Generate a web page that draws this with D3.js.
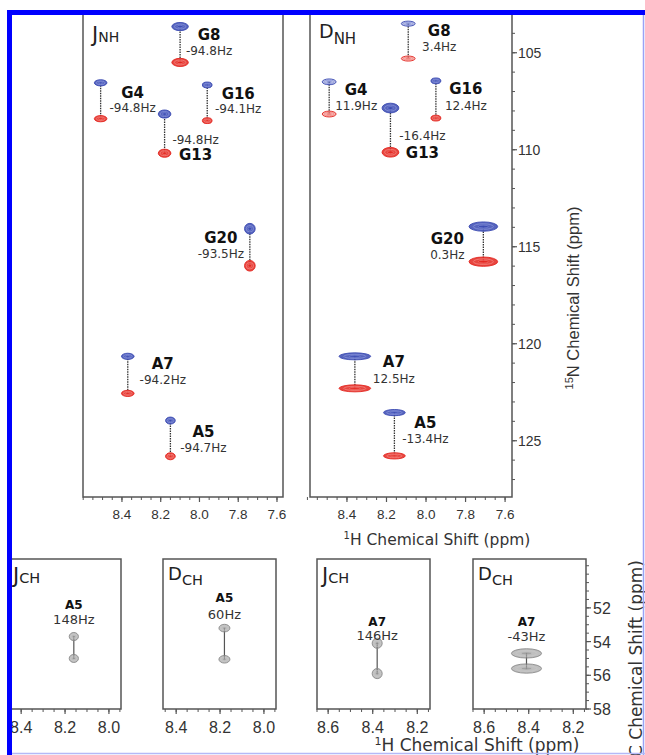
<!DOCTYPE html>
<html>
<head>
<meta charset="utf-8">
<script src="https://cdn.jsdelivr.net/npm/d3@7"></script>
<style>
body { margin: 0; background: #fff; }
svg { display: block; }
</style>
</head>
<body>
<script>
// ---- data ----
var residues = ["G8", "G4", "G16", "G13", "G20", "A7", "A5"];

// J_NH panel: 1H shift, 15N shift of upfield (blue) and downfield (red) component
var jnhH     = [8.10, 8.51, 7.96, 8.18, 7.74, 8.37, 8.15];
var jnhNblue = [103.65, 106.55, 106.66, 108.16, 114.07, 120.65, 123.96];
var jnhNred  = [105.50, 108.40, 108.50, 110.18, 115.98, 122.56, 125.80];
var jnhHz    = ["-94.8Hz", "-94.8Hz", "-94.1Hz", "-94.8Hz", "-93.5Hz", "-94.2Hz", "-94.7Hz"];
var jnhLwH   = [0.085, 0.065, 0.05, 0.065, 0.055, 0.065, 0.05];
var jnhLwN   = [0.42, 0.32, 0.30, 0.42, 0.55, 0.32, 0.36];

// D_NH panel
var dnhH     = [8.09, 8.49, 7.95, 8.18, 7.71, 8.36, 8.16];
var dnhNblue = [103.50, 106.50, 106.45, 107.85, 113.96, 120.65, 123.55];
var dnhNred  = [105.30, 108.16, 108.37, 110.13, 115.77, 122.30, 125.78];
var dnhHz    = ["3.4Hz", "11.9Hz", "12.4Hz", "-16.4Hz", "0.3Hz", "12.5Hz", "-13.4Hz"];
var dnhLwH   = [0.07, 0.07, 0.05, 0.085, 0.145, 0.16, 0.11];
var dnhLwN   = [0.26, 0.30, 0.30, 0.50, 0.48, 0.36, 0.32];

var hTicksNH = [8.4, 8.2, 8.0, 7.8, 7.6];
var nTicks   = [105, 110, 115, 120, 125];

// C-H panels (A5 and A7 alpha carbons)
var chKind    = ["J", "D", "J", "D"];
var chRes     = ["A5", "A5", "A7", "A7"];
var chHz      = ["148Hz", "60Hz", "146Hz", "-43Hz"];
var chH       = [8.16, 8.18, 8.38, 8.41];
var chCtop    = [53.7, 53.2, 54.1, 54.7];
var chCbottom = [55.0, 55.05, 55.9, 55.6];
var chLwH     = [0.042, 0.05, 0.045, 0.135];
var chLwC     = [0.48, 0.45, 0.6, 0.55];
var hTicksA5  = [8.4, 8.2, 8.0];
var hTicksA7  = [8.6, 8.4, 8.2];
var cTicks    = [52, 54, 56, 58];

// ---- layout ----
var w = 645, h = 755;
var svg = d3.select("body").append("svg")
	.attr("width", w)
	.attr("height", h);

var blue = { main: "#3a4ab2", light: "#8b96de" };
var red = { main: "#e3261f", light: "#f58a84" };
var grey = { main: "#8a8a8a", light: "#c9c9c9" };
var frame = "#555";
var labFont = "DejaVu Sans, Verdana, sans-serif";
var axFont = "Liberation Sans, Arial, sans-serif";

var nhTop = 12, nhBot = 497;
var yN = d3.scaleLinear().domain([102.9, 127.9]).range([nhTop, nhBot]);

// label offsets (px) from the blue peak: [dx, name dy, coupling dy]
var jnhLab = {
	G8: [29, 13, 28], G4: [32, 15, 29], G16: [31, 14, 28], G13: [31, 46, 30],
	G20: [-29, 14, 29], A7: [35, 13, 28], A5: [33, 16, 31]
};
var dnhLab = {
	G8: [31, 12, 27], G4: [27, 13, 28], G16: [30, 13, 29], G13: [32, 50, 32],
	G20: [-36, 17, 32], A7: [39, 11, 27], A5: [31, 15, 30]
};

var nhPanels = [
	{ kind: "J", x0: 83, x1: 283, dom: [8.601, 7.569], H: jnhH, nb: jnhNblue, nr: jnhNred,
	  hz: jnhHz, lwH: jnhLwH, lwN: jnhLwN, lab: jnhLab, big: 21, small: 14, subDy: 0 },
	{ kind: "D", x0: 310, x1: 512, dom: [8.587, 7.565], H: dnhH, nb: dnhNblue, nr: dnhNred,
	  hz: dnhHz, lwH: dnhLwH, lwN: dnhLwN, lab: dnhLab, big: 19, small: 15, subDy: 6 }
];

function peak(g, cx, cy, rx, ry, col, op) {
	g.append("ellipse")
		.attr("cx", cx).attr("cy", cy).attr("rx", rx).attr("ry", ry)
		.attr("fill", col.main).attr("fill-opacity", op)
		.attr("stroke", col.main).attr("stroke-width", 0.9);
	g.append("ellipse")
		.attr("cx", cx).attr("cy", cy).attr("rx", rx * 0.7).attr("ry", ry * 0.6)
		.attr("fill", "none")
		.attr("stroke", col.light).attr("stroke-width", 0.7);
	g.append("ellipse")
		.attr("cx", cx).attr("cy", cy).attr("rx", rx * 0.35).attr("ry", ry * 0.3)
		.attr("fill", col.main).attr("fill-opacity", op)
		.attr("stroke", col.light).attr("stroke-width", 0.5);
}

function xTicks(g, x, y0, majors, lo, hi, step, size, yLab) {
	var minors = d3.range(Math.round(lo / step), Math.round(hi / step) + 1).map(function(d) { return d * step; });
	g.selectAll(null).data(minors).enter().append("line")
		.attr("x1", function(d) { return x(d); })
		.attr("x2", function(d) { return x(d); })
		.attr("y1", y0).attr("y2", y0 + 3)
		.attr("stroke", frame).attr("stroke-width", 1);
	g.selectAll(null).data(majors).enter().append("line")
		.attr("x1", function(d) { return x(d); })
		.attr("x2", function(d) { return x(d); })
		.attr("y1", y0).attr("y2", y0 + 5)
		.attr("stroke", frame).attr("stroke-width", 1.2);
	g.selectAll(null).data(majors).enter().append("text")
		.attr("x", function(d) { return x(d); })
		.attr("y", yLab)
		.attr("text-anchor", "middle")
		.attr("font-family", axFont)
		.attr("font-size", size + "px")
		.attr("fill", "#333")
		.text(function(d) { return d.toFixed(1); });
}

function panelTitle(g, x, y, kind, sub, big, small, dy) {
	var t = g.append("text")
		.attr("x", x).attr("y", y)
		.attr("font-family", labFont)
		.attr("fill", "#222");
	t.append("tspan").attr("font-size", big + "px").text(kind);
	t.append("tspan").attr("font-size", small + "px").attr("dy", dy).text(sub);
}

// ---- N-H panels ----
nhPanels.forEach(function(p) {
	var x = d3.scaleLinear().domain(p.dom).range([p.x0, p.x1]);
	var g = svg.append("g");

	g.append("rect")
		.attr("x", p.x0).attr("y", nhTop)
		.attr("width", p.x1 - p.x0).attr("height", nhBot - nhTop)
		.attr("fill", "none").attr("stroke", frame).attr("stroke-width", 1.5);

	xTicks(g, x, nhBot, hTicksNH, 7.6, 8.6, 0.05, 13.5, 519);

	panelTitle(g, p.x0 + 9, p.kind == "J" ? 42 : 38, p.kind, "NH", p.big, p.small, p.subDy);

	residues.forEach(function(r, i) {
		var cx = x(p.H[i]);
		var yb = yN(p.nb[i]), yr = yN(p.nr[i]);
		var rx = Math.abs(x(0) - x(p.lwH[i])) / 2;
		var ry = (yN(p.lwN[i]) - yN(0)) / 2;
		// in the D panel the weak G8/G4 doublets are drawn as open contours
		var op = (p.kind == "D" && (r == "G8" || r == "G4")) ? 0.35 : 0.85;

		g.append("line")
			.attr("x1", cx).attr("x2", cx)
			.attr("y1", yb).attr("y2", yr)
			.attr("stroke", "#333").attr("stroke-width", 1.3)
			.attr("stroke-dasharray", "1.5,1");

		peak(g, cx, yr, rx, ry, red, op);
		peak(g, cx, yb, rx, ry, blue, op);

		var l = p.lab[r];
		g.append("text")
			.attr("x", cx + l[0]).attr("y", yb + l[1])
			.attr("text-anchor", "middle")
			.attr("font-family", labFont)
			.attr("font-weight", "bold")
			.attr("font-size", "15px")
			.attr("fill", "#111")
			.text(r);
		g.append("text")
			.attr("x", cx + l[0]).attr("y", yb + l[2])
			.attr("text-anchor", "middle")
			.attr("font-family", labFont)
			.attr("font-size", "12px")
			.attr("fill", "#333")
			.text(p.hz[i]);
	});
});

// right 15N axis
var nAx = svg.append("g");
nAx.selectAll(null).data(d3.range(103, 128)).enter().append("line")
	.attr("x1", 512).attr("x2", 515)
	.attr("y1", function(d) { return yN(d); })
	.attr("y2", function(d) { return yN(d); })
	.attr("stroke", frame);
nAx.selectAll(null).data(nTicks).enter().append("line")
	.attr("x1", 512).attr("x2", 517)
	.attr("y1", function(d) { return yN(d); })
	.attr("y2", function(d) { return yN(d); })
	.attr("stroke", frame).attr("stroke-width", 1.2);
nAx.selectAll(null).data(nTicks).enter().append("text")
	.attr("x", 518)
	.attr("y", function(d) { return yN(d) + 5; })
	.attr("font-family", axFont)
	.attr("font-size", "14px")
	.attr("fill", "#333")
	.text(function(d) { return d; });

var nTitle = svg.append("text")
	.attr("transform", "translate(579,298) rotate(-90)")
	.attr("text-anchor", "middle")
	.attr("font-family", axFont)
	.attr("font-size", "16.5px")
	.attr("fill", "#333");
nTitle.append("tspan").attr("font-size", "11px").attr("dy", -6).text("15");
nTitle.append("tspan").attr("dy", 6).text("N Chemical Shift (ppm)");

var hTitle = svg.append("text")
	.attr("x", 437).attr("y", 545)
	.attr("text-anchor", "middle")
	.attr("font-family", labFont)
	.attr("font-size", "15.5px")
	.attr("fill", "#333");
hTitle.append("tspan").attr("font-size", "10px").attr("dy", -6).text("1");
hTitle.append("tspan").attr("dy", 6).text("H Chemical Shift (ppm)");

// ---- C-H panels ----
var chTop = 559, chBot = 709;
var yC = d3.scaleLinear().domain([49.1, 58]).range([chTop, chBot]);
var chX0 = [8, 163, 317, 473];
var chDom = [[8.46, 7.945], [8.46, 7.945], [8.65, 8.143], [8.65, 8.143]];
var chLab = [[-32, -17], [-30, -13], [-21, -7], [-31, -16]];

chKind.forEach(function(k, i) {
	var x0 = chX0[i], x1 = chX0[i] + 113;
	var x = d3.scaleLinear().domain(chDom[i]).range([x0, x1]);
	var g = svg.append("g");

	g.append("rect")
		.attr("x", x0).attr("y", chTop)
		.attr("width", x1 - x0).attr("height", chBot - chTop)
		.attr("fill", "none").attr("stroke", frame).attr("stroke-width", 1.5);

	var lo = i < 2 ? 7.95 : 8.15, hi = i < 2 ? 8.45 : 8.65;
	xTicks(g, x, chBot, i < 2 ? hTicksA5 : hTicksA7, lo, hi, 0.05, 16, 733);

	panelTitle(g, x0 + 5, k == "J" ? 583 : 580, k, "CH", k == "J" ? 21 : 18, 14.5, k == "J" ? 0 : 5);

	var cx = x(chH[i]);
	var yt = yC(chCtop[i]), yb = yC(chCbottom[i]);
	var rx = Math.abs(x(0) - x(chLwH[i])) / 2;
	var ry = (yC(chLwC[i]) - yC(0)) / 2;

	g.append("line")
		.attr("x1", cx).attr("x2", cx)
		.attr("y1", yt).attr("y2", yb)
		.attr("stroke", "#555").attr("stroke-width", 1.2);
	peak(g, cx, yt, rx, ry, grey, 0.55);
	peak(g, cx, yb, rx, ry, grey, 0.55);

	g.append("text")
		.attr("x", cx).attr("y", yt + chLab[i][0] + 4)
		.attr("text-anchor", "middle")
		.attr("font-family", labFont)
		.attr("font-weight", "bold")
		.attr("font-size", "12px")
		.attr("fill", "#111")
		.text(chRes[i]);
	g.append("text")
		.attr("x", cx).attr("y", yt + chLab[i][1] + 4)
		.attr("text-anchor", "middle")
		.attr("font-family", labFont)
		.attr("font-size", "13px")
		.attr("fill", "#333")
		.text(chHz[i]);
});

// right 13C axis
var cAx = svg.append("g");
cAx.selectAll(null).data(d3.range(49.5, 58.01, 0.5)).enter().append("line")
	.attr("x1", 586).attr("x2", 589)
	.attr("y1", function(d) { return yC(d); })
	.attr("y2", function(d) { return yC(d); })
	.attr("stroke", frame);
cAx.selectAll(null).data(cTicks).enter().append("line")
	.attr("x1", 586).attr("x2", 591)
	.attr("y1", function(d) { return yC(d); })
	.attr("y2", function(d) { return yC(d); })
	.attr("stroke", frame).attr("stroke-width", 1.2);
cAx.selectAll(null).data(cTicks).enter().append("text")
	.attr("x", 593)
	.attr("y", function(d) { return yC(d) + 6; })
	.attr("font-family", axFont)
	.attr("font-size", "16px")
	.attr("fill", "#333")
	.text(function(d) { return d; });

var cTitle = svg.append("text")
	.attr("transform", "translate(642,560) rotate(-90)")
	.attr("text-anchor", "end")
	.attr("font-family", labFont)
	.attr("font-size", "17px")
	.attr("fill", "#333");
cTitle.append("tspan").attr("font-size", "11px").attr("dy", -6).text("13");
cTitle.append("tspan").attr("dy", 6).text("C Chemical Shift (ppm)");

var hTitle2 = svg.append("text")
	.attr("x", 477).attr("y", 751)
	.attr("text-anchor", "middle")
	.attr("font-family", labFont)
	.attr("font-size", "17px")
	.attr("fill", "#333");
hTitle2.append("tspan").attr("font-size", "11px").attr("dy", -6).text("1");
hTitle2.append("tspan").attr("dy", 6).text("H Chemical Shift (ppm)");

// ---- figure border (blue) ----
svg.append("rect").attr("x", 0).attr("y", 0).attr("width", 7).attr("height", h).attr("fill", "#fff");
svg.append("rect").attr("x", 0).attr("y", 0).attr("width", w).attr("height", 10).attr("fill", "#fff");
svg.append("line").attr("x1", 643.5).attr("x2", 643.5).attr("y1", 12).attr("y2", h)
	.attr("stroke", "#9aa2f5").attr("stroke-width", 1.5);
svg.append("line").attr("x1", 10).attr("x2", w).attr("y1", 753.5).attr("y2", 753.5)
	.attr("stroke", "#b4b9f7").attr("stroke-width", 1.5);
svg.append("rect").attr("x", 7).attr("y", 10).attr("width", 638).attr("height", 5).attr("fill", "#0000ff");
svg.append("rect").attr("x", 7).attr("y", 10).attr("width", 5).attr("height", h - 10).attr("fill", "#0000ff");
</script>
</body>
</html>
